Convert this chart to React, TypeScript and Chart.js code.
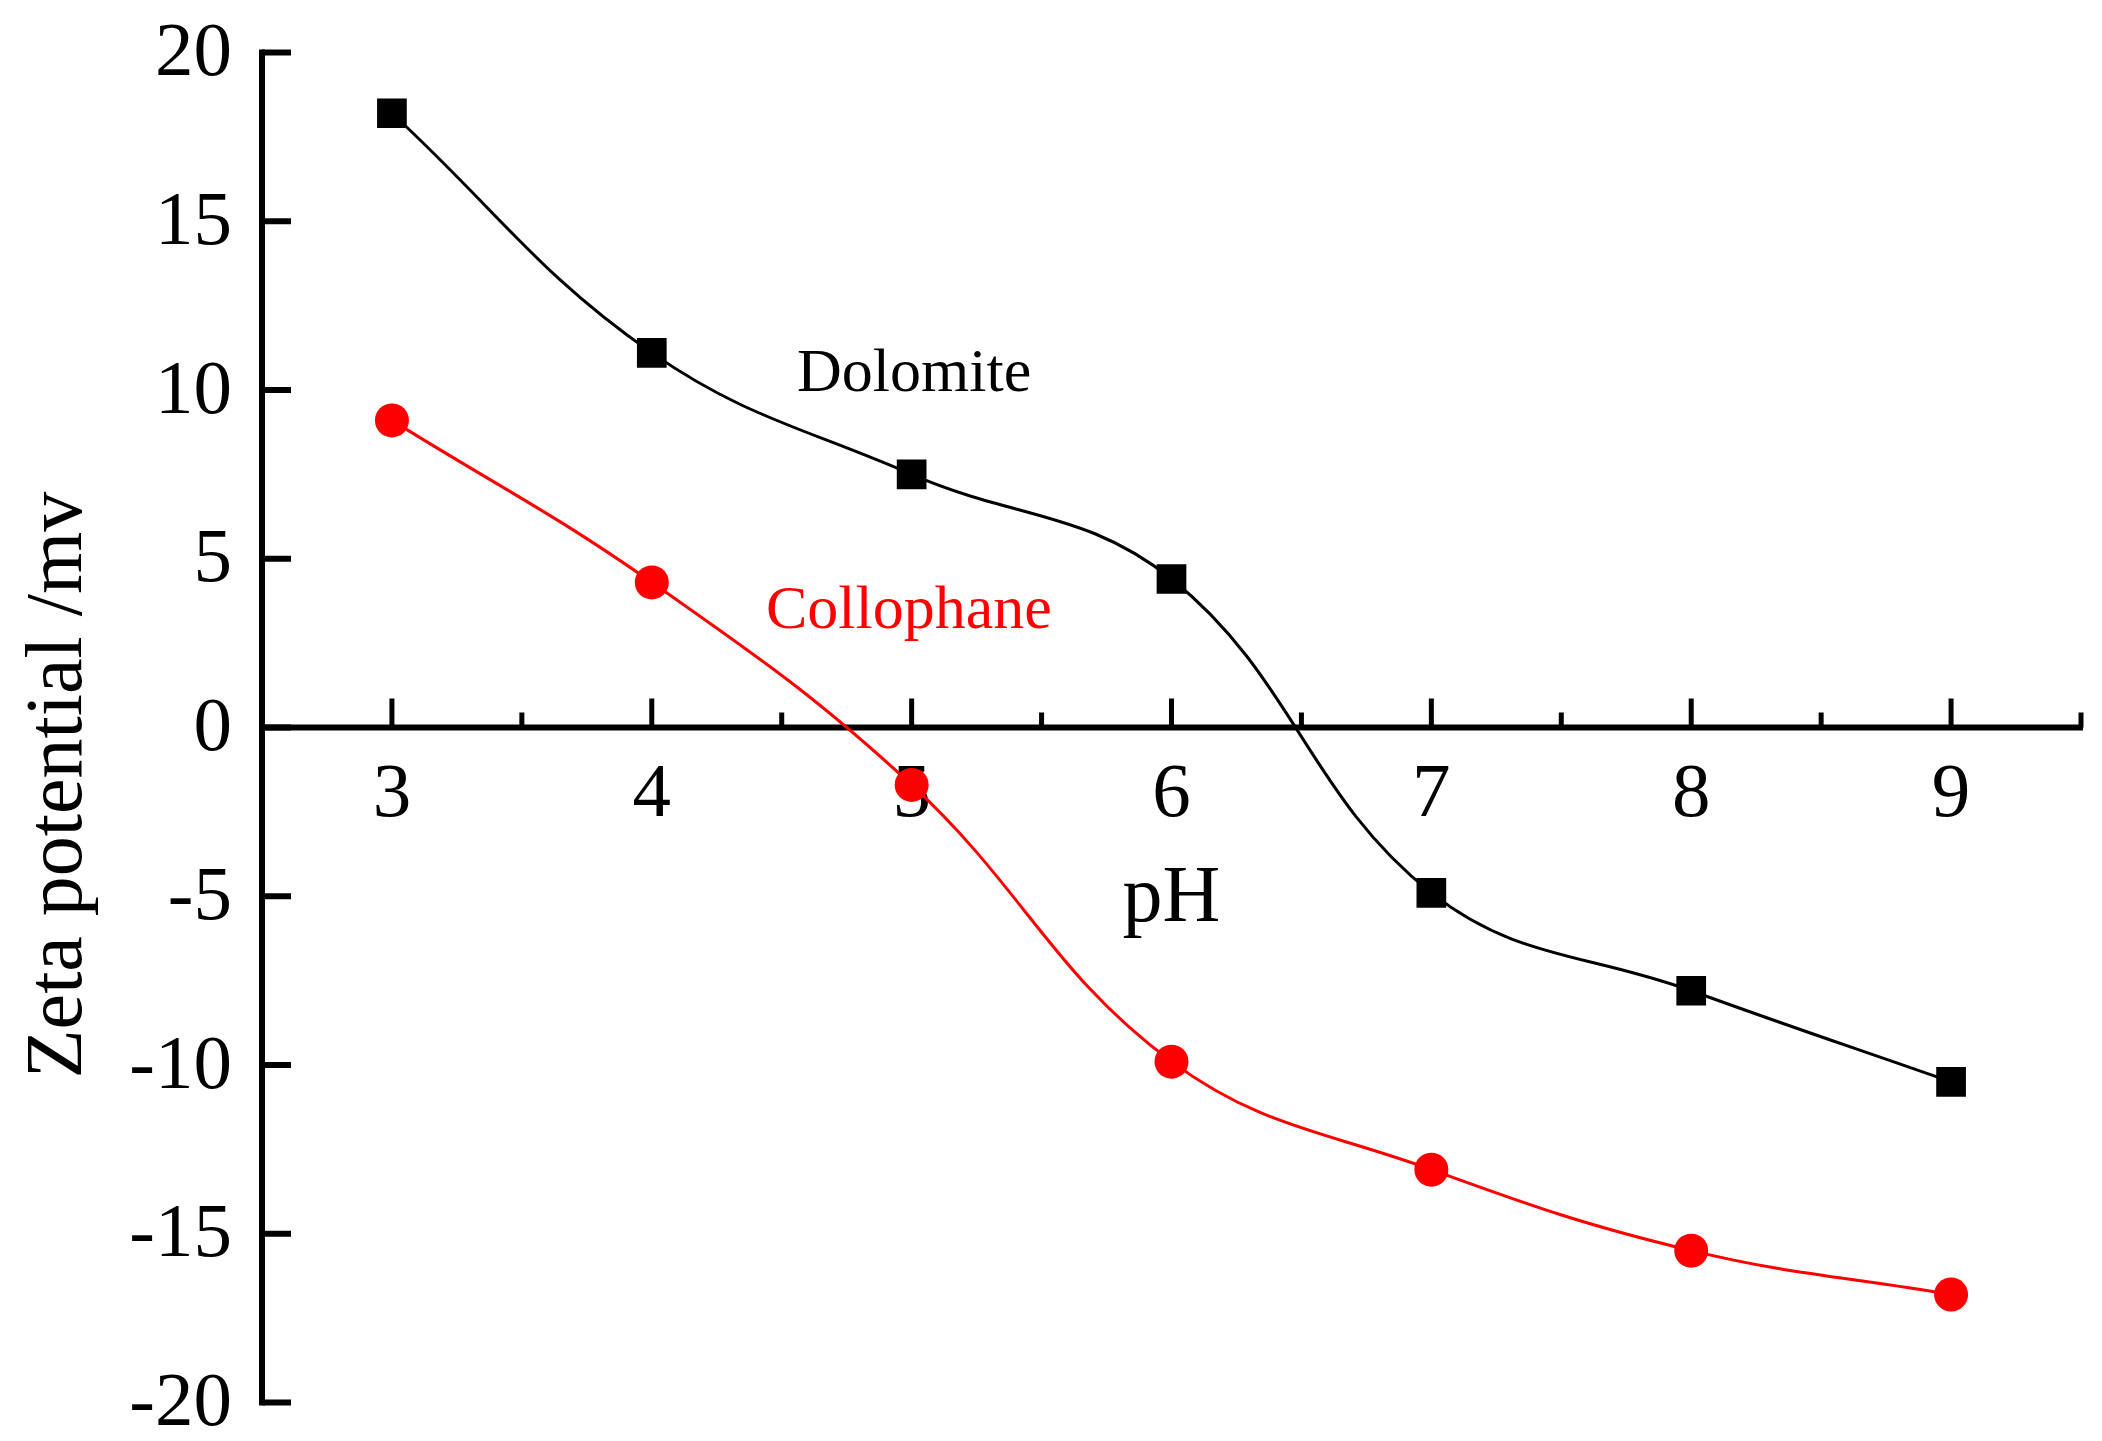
import React, { useEffect, useRef } from "react";
import { Chart, registerables } from "chart.js";

Chart.register(...registerables);

const phValues = [3, 4, 5, 6, 7, 8, 9];
const dolomite = [18.2, 11.1, 7.5, 4.4, -4.9, -7.8, -10.5];
const collophane = [9.1, 4.3, -1.7, -9.9, -13.1, -15.5, -16.8];
const xMajorTicks = [3, 4, 5, 6, 7, 8, 9];
const xMinorTicks = [3.5, 4.5, 5.5, 6.5, 7.5, 8.5, 9.5];
const yTicks = [20, 15, 10, 5, 0, -5, -10, -15, -20];
const seriesNames = ["Dolomite", "Collophane"];
const xTitle = "pH";
const yTitle = "Zeta potential /mv";

const W = 2102;
const H = 1441;
const FONT = '"Liberation Serif", "Times New Roman", serif';

const axesPlugin = {
  id: "originAxes",
  beforeDatasetsDraw(chart: any) {
    const ctx = chart.ctx;
    const xs = chart.scales.x;
    const ys = chart.scales.y;
    const ca = chart.chartArea;
    const y0 = ys.getPixelForValue(0);
    ctx.save();
    ctx.strokeStyle = "#000";
    ctx.fillStyle = "#000";
    ctx.lineCap = "butt";
    ctx.lineWidth = 6;
    ctx.beginPath();
    ctx.moveTo(ca.left, ca.top - 3);
    ctx.lineTo(ca.left, ca.bottom + 3);
    ctx.stroke();
    for (const v of yTicks) {
      const py = ys.getPixelForValue(v);
      ctx.beginPath();
      ctx.moveTo(ca.left, py);
      ctx.lineTo(ca.left + 29, py);
      ctx.stroke();
    }
    ctx.beginPath();
    ctx.moveTo(ca.left, y0);
    ctx.lineTo(ca.right + 2, y0);
    ctx.stroke();
    ctx.lineWidth = 5;
    for (const v of xMajorTicks) {
      const px = xs.getPixelForValue(v);
      ctx.beginPath();
      ctx.moveTo(px, y0);
      ctx.lineTo(px, y0 - 29);
      ctx.stroke();
    }
    for (const v of xMinorTicks) {
      const px = xs.getPixelForValue(v);
      ctx.beginPath();
      ctx.moveTo(px, y0);
      ctx.lineTo(px, y0 - 15);
      ctx.stroke();
    }
    ctx.font = `77px ${FONT}`;
    ctx.textAlign = "right";
    ctx.textBaseline = "alphabetic";
    for (const v of yTicks) {
      const py = ys.getPixelForValue(v);
      ctx.fillText(String(v), ca.left - 30, py + 22.5);
    }
    ctx.textAlign = "center";
    for (const v of xMajorTicks) {
      const px = xs.getPixelForValue(v);
      ctx.fillText(String(v), px, y0 + 88);
    }
    ctx.font = `80px ${FONT}`;
    ctx.fillText(xTitle, (ca.left + ca.right) / 2, 921);
    ctx.save();
    ctx.translate(81, 785);
    ctx.rotate(-Math.PI / 2);
    ctx.textAlign = "center";
    ctx.fillText(yTitle, 0, 0);
    ctx.restore();
    ctx.font = `62px ${FONT}`;
    ctx.textAlign = "left";
    ctx.fillStyle = "#000";
    ctx.fillText(seriesNames[0], 797, 391);
    ctx.fillStyle = "#ff0000";
    ctx.fillText(seriesNames[1], 766, 628);
    ctx.restore();
  },
};

export default function App() {
  const ref = useRef<HTMLCanvasElement | null>(null);
  useEffect(() => {
    if (!ref.current) return;
    const chart = new Chart(ref.current, {
      type: "line",
      data: {
        datasets: [
          {
            label: seriesNames[0],
            data: phValues.map((x, i) => ({ x, y: dolomite[i] })),
            borderColor: "#000000",
            backgroundColor: "#000000",
            borderWidth: 3,
            pointStyle: "rect",
            pointRadius: 21,
            pointBorderWidth: 0,
            tension: 0.4,
          },
          {
            label: seriesNames[1],
            data: phValues.map((x, i) => ({ x, y: collophane[i] })),
            borderColor: "#ff0000",
            backgroundColor: "#ff0000",
            borderWidth: 3,
            pointStyle: "circle",
            pointRadius: 17,
            pointBorderWidth: 0,
            tension: 0.4,
          },
        ],
      },
      options: {
        animation: false,
        responsive: false,
        devicePixelRatio: 1,
        layout: { padding: { left: 262, top: 52.5, right: 21, bottom: 38.5 } },
        plugins: { legend: { display: false }, tooltip: { enabled: false } },
        scales: {
          x: { type: "linear", min: 2.5, max: 9.5, display: false },
          y: { type: "linear", min: -20, max: 20, display: false },
        },
      },
      plugins: [axesPlugin],
    } as any);
    return () => chart.destroy();
  }, []);
  return (
    <div style={{ position: "fixed", left: 0, top: 0, width: W, height: H, background: "#fff" }}>
      <canvas ref={ref} width={W} height={H} style={{ display: "block", width: W, height: H }} />
    </div>
  );
}
